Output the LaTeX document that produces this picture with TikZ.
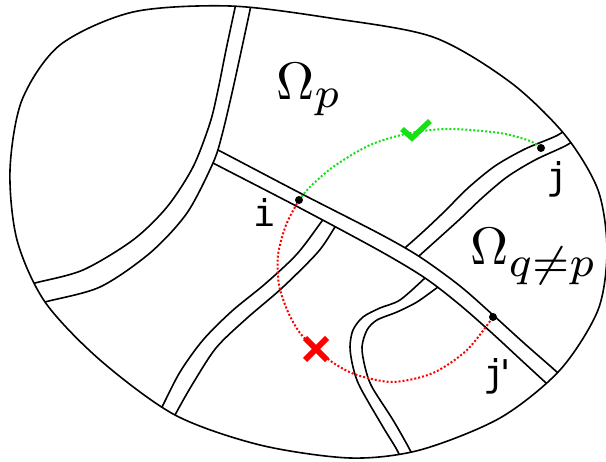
\documentclass[tikz,border=0pt]{standalone}
\usepackage{fontspec}
\usepackage{graphicx}
\newfontfamily\monof{DejaVu Sans Mono}[Ligatures=TeXOff]
\definecolor{okgreen}{RGB}{20,225,20}
\definecolor{badred}{RGB}{255,0,0}
\begin{document}
\begin{tikzpicture}[x=1bp,y=-1bp,line width=1.6bp,
  bandline/.style={draw=black,line width=1.6bp},
  bandfill/.style={fill=white,draw=none},
  path dots/.style={line width=2bp,dash pattern=on 2bp off 2bp},
  lbl/.style={font=\monof\fontsize{37}{42}\selectfont,inner sep=0pt},
  omega/.style={scale=5.3,inner sep=0pt,anchor=base west}]
\useasboundingbox[fill=white] (0,0) rectangle (606,462);
\begin{scope}
\clip plot[smooth cycle] coordinates {(10,170) (22,100) (60,45) (133,12) (230,6) (330,18) (433,37) (510,82) (565,135) (598,190) (607,250) (598,310) (560,370) (500,418) (420,450) (350,458) (260,445) (175,415) (100,360) (45,302) (17,240)};
% band C
\fill[bandfill] plot[smooth] coordinates {(150,430) (162,407) (180,372) (203,340) (232,311) (265,284) (297,254) (322,221) (326,216)}
  -- plot[smooth] coordinates {(339,221) (335,227) (318,252) (282,288) (246,319) (216,348) (192,385) (175,415) (165,435)} -- cycle;
\draw[bandline] plot[smooth] coordinates {(150,430) (162,407) (180,372) (203,340) (232,311) (265,284) (297,254) (322,221) (326,216)};
\draw[bandline] plot[smooth] coordinates {(165,435) (175,415) (192,385) (216,348) (246,319) (282,288) (318,252) (335,227) (339,221)};
% band D
\fill[bandfill] plot[smooth] coordinates {(575,122) (558,135) (525,149) (495,166) (468,188) (445,211) (425,230) (406,247) (398,254)}
  -- plot[smooth] coordinates {(412,263) (419,256) (439,238) (460,219) (482,198) (507,177) (535,160) (567,145) (585,132)} -- cycle;
\draw[bandline] plot[smooth] coordinates {(575,122) (558,135) (525,149) (495,166) (468,188) (445,211) (425,230) (406,247) (398,254)};
\draw[bandline] plot[smooth] coordinates {(585,132) (567,145) (535,160) (507,177) (482,198) (460,219) (439,238) (419,256) (412,263)};
% band E
\fill[bandfill] plot[smooth] coordinates {(430,273) (425,278) (400,300) (380,308) (363,317) (353,330) (350,347) (353,367) (360,387) (383,427) (397,450) (405,468)}
  -- plot[smooth] coordinates {(418,468) (410,450) (393,420) (372,387) (365,367) (362,347) (367,330) (377,320) (397,312) (417,302) (438,287) (444,283)} -- cycle;
\draw[bandline] plot[smooth] coordinates {(430,273) (425,278) (400,300) (380,308) (363,317) (353,330) (350,347) (353,367) (360,387) (383,427) (397,450) (405,468)};
\draw[bandline] plot[smooth] coordinates {(444,283) (438,287) (417,302) (397,312) (377,320) (367,330) (362,347) (365,367) (372,387) (393,420) (410,450) (418,468)};
% band B
\fill[bandfill] plot[smooth] coordinates {(205,144) (218,150) (300,193) (380,234) (420,257) (460,286) (493,315) (525,344) (558,373) (570,385)}
  -- plot[smooth] coordinates {(556,392) (545,382) (520,359) (493,334) (460,305) (425,278) (380,251) (300,208) (213,163) (205,158)} -- cycle;
\draw[bandline] plot[smooth] coordinates {(205,144) (218,150) (300,193) (380,234) (420,257) (460,286) (493,315) (525,344) (558,373) (570,385)};
\draw[bandline] plot[smooth] coordinates {(205,158) (213,163) (300,208) (380,251) (425,278) (460,305) (493,334) (520,359) (545,382) (556,392)};
% band A
\fill[bandfill] plot[smooth] coordinates {(238,-5) (235,8) (226,50) (218,90) (210,123) (193,167) (167,207) (133,240) (83,270) (35,283) (10,290)}
  -- plot[smooth] coordinates {(20,310) (45,302) (100,287) (150,253) (187,213) (213,163) (222,135) (232,93) (241,52) (250,10) (253,-5)} -- cycle;
\draw[bandline] plot[smooth] coordinates {(238,-5) (235,8) (226,50) (218,90) (210,123) (193,167) (167,207) (133,240) (83,270) (35,283) (10,290)};
\draw[bandline] plot[smooth] coordinates {(253,-5) (250,10) (241,52) (232,93) (222,135) (213,163) (187,213) (150,253) (100,287) (45,302) (20,310)};
\end{scope}
% paths
\coordinate (pi) at (299,200);
\coordinate (pj) at (541,148);
\coordinate (pjp) at (493,317);
\draw[okgreen,path dots] plot[smooth] coordinates {(299,200) (310,187) (333,167) (370,145) (410,133) (450,129) (500,133) (530,141) (541,148)};
\draw[badred,path dots] plot[smooth] coordinates {(299,200) (286,225) (278,255) (279,285) (288,312) (300,333) (316,349) (335,364) (357,375) (393,382) (433,373) (467,350) (493,317)};
\draw[okgreen,line width=5.5bp] (402,129) -- (412,138) -- (430,121);
\draw[badred,line width=6bp] (305,338) -- (327,360) (327,338) -- (305,360);
\fill (pi) circle[radius=4bp];
\fill (pj) circle[radius=4bp];
\fill (pjp) circle[radius=4bp];
% outline
\draw plot[smooth cycle] coordinates {(10,170) (22,100) (60,45) (133,12) (230,6) (330,18) (433,37) (510,82) (565,135) (598,190) (607,250) (598,310) (560,370) (500,418) (420,450) (350,458) (260,445) (175,415) (100,360) (45,302) (17,240)};
% labels
\node[lbl,anchor=base] (li) at (265,227) {i};
\node[lbl,anchor=base] (lj) at (558,190) {j};
\node[lbl,anchor=base west] (ljp) at (483,386) {j\kern-0.32em'};
\node[omega] (op) at (272,100) {$\Omega_{\scalebox{1.15}{$\scriptstyle p$}}$};
\node[omega] (oq) at (466,265) {$\Omega_{\scalebox{1.15}{$\scriptstyle q\neq p$}}$};
\end{tikzpicture}
\end{document}
